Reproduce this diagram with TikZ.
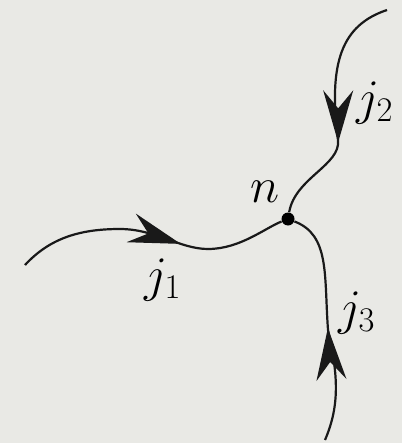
\documentclass[tikz,border=0pt]{standalone}
\usetikzlibrary{arrows.meta, decorations.markings}

\definecolor{paper}{RGB}{233,233,229}

\begin{document}
\begin{tikzpicture}[
  x=0.5pt, y=-0.5pt,
  wire/.style={line width=1.1pt, black!90},
  head/.style={postaction={decorate, decoration={markings,
      mark=at position #1 with {\arrow{Stealth[length=26pt, width=15pt, inset=9pt]}}}}},
  junction/.style={circle, fill=black, inner sep=0pt, minimum size=6.5pt},
  lbl/.style={font=\fontsize{23}{28}\selectfont, inner sep=0pt}
]

\fill[paper] (0,0) rectangle (402,443);

\node[junction] (n) at (288,219) {};
\coordinate (e1) at (25,265);
\coordinate (e2) at (387,10);
\coordinate (e3) at (325,440);

\node[lbl] (ln)  at (265,192) {$n$};
\node[lbl] (lj1) at (163,280) {$j_1$};
\node[lbl] (lj2) at (375,103) {$j_2$};
\node[lbl] (lj3) at (357,313) {$j_3$};

\draw[wire, head=0.61] (e1) .. controls (50,238) and (80,229) .. (120,229)
  .. controls (155,229) and (180,249) .. (208,249)
  .. controls (240,249) and (265,228) .. (n);
\draw[wire, head=0.64] (e2) .. controls (342,25) and (328,62) .. (338,140)
  .. controls (341,165) and (295,178) .. (n);
\draw[wire, head=0.49] (e3) .. controls (340,405) and (338,375) .. (328,330)
  .. controls (324,275) and (330,235) .. (n);

\end{tikzpicture}
\end{document}
